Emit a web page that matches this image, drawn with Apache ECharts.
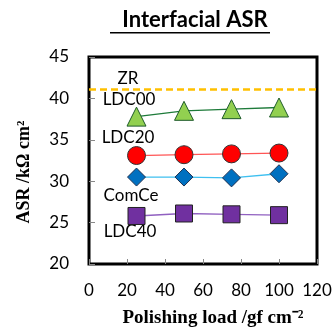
<!DOCTYPE html>
<html><head><meta charset="utf-8">
<script src="https://cdn.jsdelivr.net/npm/echarts@6/dist/echarts.min.js"></script>
<style>html,body{margin:0;padding:0;background:#fff}#c{width:335px;height:335px}</style>
</head><body><div id="c"></div>
<script>
const loads = [25, 50, 75, 100];
const ldc00 = [37.8, 38.5, 38.7, 38.9];
const ldc20 = [33.1, 33.2, 33.3, 33.4];
const comce = [30.5, 30.5, 30.4, 30.9];
const ldc40 = [25.8, 26.1, 26.0, 25.9];
const zrValue = 41.1;
const xTicks = [0, 20, 40, 60, 80, 100, 120];
const yTicks = [20, 25, 30, 35, 40, 45];

const chart = echarts.init(document.getElementById('c'));
const pts = arr => loads.map((x, i) => [x, arr[i]]);
const tf = 'Lato, sans-serif';
function ser(name, data, symbol, size, fill, line, border) {
  return {
    name, type: 'line', data: pts(data), symbol, symbolSize: size,
    lineStyle: { color: line, width: 1.3 },
    itemStyle: { color: fill, borderColor: border, borderWidth: 1 },
    z: 5
  };
}
chart.setOption({
  animation: false,
  title: {
    text: 'Interfacial ASR', left: 190, textAlign: 'center', top: 4,
    textStyle: { fontFamily: tf, fontWeight: 'bold', fontSize: 22, color: '#000' }
  },
  grid: { left: 89, right: 18, top: 57, bottom: 71, show: true, borderColor: '#000', borderWidth: 3 },
  xAxis: {
    type: 'value', min: 0, max: 120, interval: 20,
    axisLine: { lineStyle: { color: '#000', width: 2 } },
    axisTick: { inside: true, length: 5, lineStyle: { color: '#888' } },
    splitLine: { show: false },
    axisLabel: { fontFamily: tf, fontSize: 17, color: '#000', margin: 18 }
  },
  yAxis: {
    type: 'value', min: 20, max: 45, interval: 5,
    axisLine: { lineStyle: { color: '#000', width: 2 } },
    axisTick: { inside: true, length: 6, lineStyle: { color: '#888' } },
    splitLine: { show: false },
    axisLabel: { fontFamily: tf, fontSize: 17, color: '#000', margin: 20 }
  },
  series: [
    ser('LDC00', ldc00, 'triangle', 19, '#92D050', '#1E7B3A', '#1E5B2A'),
    ser('LDC20', ldc20, 'circle', 18, '#FF0000', '#FF5555', '#333'),
    ser('ComCe', comce, 'diamond', 18, '#0070C0', '#3FC0F0', '#1F3050'),
    ser('LDC40', ldc40, 'rect', 17, '#7030A0', '#9060C0', '#222'),
    {
      name: 'ZR', type: 'line', data: [], symbol: 'none',
      markLine: {
        symbol: 'none', silent: true, label: { show: false },
        lineStyle: { color: '#FFC000', type: [7, 4], width: 2.5 },
        data: [{ yAxis: zrValue }]
      }
    }
  ],
  graphic: [
    { type: 'rect', shape: { x: 110, y: 32, width: 160, height: 1.5 }, style: { fill: '#000' } },
    { type: 'text', x: 128, y: 79, style: { text: 'ZR', font: '17px Lato', fill: '#000', textAlign: 'center', textVerticalAlign: 'middle' } },
    { type: 'text', x: 129, y: 100, style: { text: 'LDC00', font: '17px Lato', fill: '#000', textAlign: 'center', textVerticalAlign: 'middle' } },
    { type: 'text', x: 128, y: 138, style: { text: 'LDC20', font: '17px Lato', fill: '#000', textAlign: 'center', textVerticalAlign: 'middle' } },
    { type: 'text', x: 131, y: 196, style: { text: 'ComCe', font: '17px Lato', fill: '#000', textAlign: 'center', textVerticalAlign: 'middle' } },
    { type: 'text', x: 130, y: 232, style: { text: 'LDC40', font: '17px Lato', fill: '#000', textAlign: 'center', textVerticalAlign: 'middle' } },
    { type: 'text', x: 213, y: 318, style: { text: 'Polishing load /gf cm⁻²', font: 'bold 19px "Liberation Serif"', fill: '#000', textAlign: 'center', textVerticalAlign: 'middle' } },
    { type: 'text', x: 24, y: 172, rotation: Math.PI / 2, style: { text: 'ASR /kΩ cm²', font: 'bold 18px "Liberation Serif"', fill: '#000', textAlign: 'center', textVerticalAlign: 'middle' } }
  ]
});
</script></body></html>
